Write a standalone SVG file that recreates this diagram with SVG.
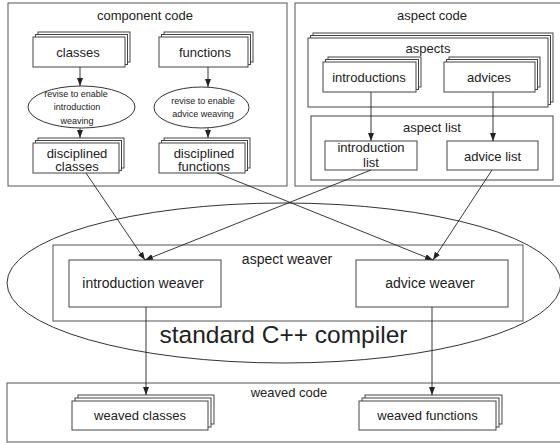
<svg xmlns="http://www.w3.org/2000/svg" width="560" height="443" viewBox="0 0 560 443">
<style>
text{font-family:"Liberation Sans",Arial,sans-serif;fill:#222;text-anchor:middle}
.t13{font-size:13px}
.t14{font-size:14px}
.t9{font-size:9px}
.big{font-size:24.5px}
.box{fill:#fff;stroke:#444;stroke-width:1}
.frame{fill:none;stroke:#555;stroke-width:1}
.ell{fill:none;stroke:#333;stroke-width:1}
.edge{fill:none;stroke:#222;stroke-width:0.9;marker-end:url(#ah)}
</style>
<defs>
<marker id="ah" markerUnits="userSpaceOnUse" markerWidth="9" markerHeight="7" refX="8" refY="3" orient="auto">
<path d="M0,0 L8,3 L0,6 z" fill="#222"/>
</marker>
</defs>
<rect width="560" height="443" fill="#fff"/>

<g id="compiler">
<ellipse class="ell" cx="284" cy="283" rx="277" ry="80"/>
<text class="big" x="283.5" y="343">standard C++ compiler</text>
</g>

<g id="component-code">
<rect class="frame" x="8" y="3" width="279" height="183"/>
<text class="t13" x="145" y="19.5">component code</text>
</g>
<g id="classes">
<rect class="box" x="38" y="32" width="92" height="30"/>
<rect class="box" x="35.5" y="34.5" width="92" height="30"/>
<rect class="box" x="33" y="37" width="92" height="30"/>
<text class="t13" x="78" y="56.5">classes</text>
</g>
<g id="functions">
<rect class="box" x="164" y="32" width="89" height="30"/>
<rect class="box" x="161.5" y="34.5" width="89" height="30"/>
<rect class="box" x="159" y="37" width="89" height="30"/>
<text class="t13" x="205" y="56.5">functions</text>
</g>
<g id="revise-introduction">
<ellipse class="ell" cx="81.5" cy="107" rx="53.5" ry="21"/>
<text class="t9" x="76" y="96.5">revise to enable</text>
<text class="t9" x="77" y="110">introduction</text>
<text class="t9" x="77" y="123.5">weaving</text>
</g>
<g id="revise-advice">
<ellipse class="ell" cx="201.5" cy="107.5" rx="47.5" ry="20.5"/>
<text class="t9" x="203" y="103.5">revise to enable</text>
<text class="t9" x="203" y="116.5">advice weaving</text>
</g>
<g id="disciplined-classes">
<rect class="box" x="38" y="138" width="86" height="30"/>
<rect class="box" x="35.5" y="140.5" width="86" height="30"/>
<rect class="box" x="33" y="143" width="86" height="30"/>
<text class="t13" x="77" y="157.5">disciplined</text>
<text class="t13" x="77" y="171">classes</text>
</g>
<g id="disciplined-functions">
<rect class="box" x="164" y="138" width="86" height="30"/>
<rect class="box" x="161.5" y="140.5" width="86" height="30"/>
<rect class="box" x="159" y="143" width="86" height="30"/>
<text class="t13" x="204" y="157.5">disciplined</text>
<text class="t13" x="204" y="171">functions</text>
</g>

<g id="aspect-code">
<rect class="frame" x="295" y="3" width="266" height="183"/>
<text class="t13" x="432" y="19.5">aspect code</text>
</g>
<g id="aspects">
<rect class="box" x="313" y="33" width="240" height="69"/>
<rect class="box" x="310.5" y="35.5" width="240" height="69"/>
<rect class="box" x="308" y="38" width="240" height="69"/>
<text class="t13" x="428" y="53">aspects</text>
</g>
<g id="introductions">
<rect class="box" x="328" y="57" width="93" height="30"/>
<rect class="box" x="325.5" y="59.5" width="93" height="30"/>
<rect class="box" x="323" y="62" width="93" height="30"/>
<text class="t13" x="369" y="81.5">introductions</text>
</g>
<g id="advices">
<rect class="box" x="449" y="57" width="91" height="30"/>
<rect class="box" x="446.5" y="59.5" width="91" height="30"/>
<rect class="box" x="444" y="62" width="91" height="30"/>
<text class="t13" x="489" y="81.5">advices</text>
</g>
<g id="aspect-list">
<rect class="box" x="311" y="116" width="242" height="64"/>
<text class="t13" x="432" y="132">aspect list</text>
</g>
<g id="introduction-list">
<rect class="box" x="325" y="141" width="92" height="29"/>
<text class="t13" x="371" y="151.5">introduction</text>
<text class="t13" x="371" y="166.5">list</text>
</g>
<g id="advice-list">
<rect class="box" x="447" y="141" width="91" height="29"/>
<text class="t13" x="492.5" y="160.5">advice list</text>
</g>

<g id="aspect-weaver">
<rect class="frame" x="53" y="245" width="470" height="76"/>
<text class="t14" x="287" y="263.5">aspect weaver</text>
</g>
<g id="introduction-weaver">
<rect class="box" x="69" y="260" width="152" height="47"/>
<text class="t14" x="143" y="288">introduction weaver</text>
</g>
<g id="advice-weaver">
<rect class="box" x="356" y="260" width="152" height="47"/>
<text class="t14" x="430" y="288">advice weaver</text>
</g>

<g id="weaved-code">
<rect class="frame" x="7" y="383" width="555" height="59"/>
<text class="t13" x="289" y="397">weaved code</text>
</g>
<g id="weaved-classes">
<rect class="box" x="78" y="395" width="136" height="29"/>
<rect class="box" x="75" y="398" width="136" height="29"/>
<rect class="box" x="72" y="401" width="136" height="29"/>
<text class="t13" x="140" y="420">weaved classes</text>
</g>
<g id="weaved-functions">
<rect class="box" x="365" y="395" width="137" height="29"/>
<rect class="box" x="362" y="398" width="137" height="29"/>
<rect class="box" x="359" y="401" width="137" height="29"/>
<text class="t13" x="427.5" y="420">weaved functions</text>
</g>

<g id="connectors">
<line class="edge" x1="80" y1="67" x2="80" y2="86"/>
<line class="edge" x1="80" y1="128" x2="80" y2="138"/>
<line class="edge" x1="208" y1="67" x2="208" y2="87"/>
<line class="edge" x1="208" y1="128" x2="208" y2="138"/>
<line class="edge" x1="371" y1="92" x2="371" y2="141"/>
<line class="edge" x1="493" y1="92" x2="493" y2="141"/>
<line class="edge" x1="86" y1="173" x2="145" y2="260"/>
<line class="edge" x1="217" y1="173" x2="433" y2="260"/>
<line class="edge" x1="371" y1="170" x2="145" y2="260"/>
<line class="edge" x1="492" y1="170" x2="433" y2="260"/>
<line class="edge" x1="146" y1="307" x2="146" y2="395"/>
<line class="edge" x1="432" y1="307" x2="432" y2="395"/>
</g>
</svg>
